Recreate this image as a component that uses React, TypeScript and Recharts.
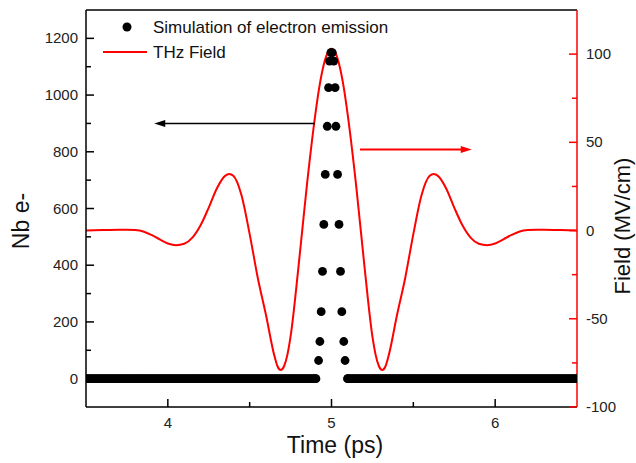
import React from 'react';
import { ComposedChart, Line, Scatter, XAxis, YAxis, ReferenceLine, Legend } from 'recharts';

// THz field (MV/cm) vs time (ps)
const fieldTimes = [
  3.5, 3.6, 3.7, 3.75, 3.8, 3.85, 3.9, 3.95, 4.0, 4.05, 4.1, 4.15, 4.2, 4.25, 4.3, 4.35, 4.375, 4.4,
  4.45, 4.5, 4.55, 4.6, 4.65, 4.67, 4.69, 4.71, 4.73, 4.75, 4.8, 4.85, 4.9, 4.925, 4.95, 4.975, 5.0,
  5.025, 5.05, 5.075, 5.1, 5.15, 5.2, 5.25, 5.27, 5.29, 5.31, 5.33, 5.35, 5.4, 5.45, 5.5, 5.55, 5.6, 5.625,
  5.65, 5.7, 5.75, 5.8, 5.85, 5.9, 5.95, 6.0, 6.05, 6.1, 6.15, 6.2, 6.25, 6.3, 6.4, 6.5,
];
const fieldValues = [
  0, 0.3, 0.5, 0.5, 0.3, -0.5, -2.5, -5, -7.3, -8.3, -7.5, -4, 3, 13, 24, 31, 32, 31,
  20, -2, -27, -48, -70.6, -76.9, -79, -76.9, -70.6, -60, -19, 26, 65, 81, 93, 100.5, 103,
  100.5, 93, 81, 65, 26, -19, -60, -70.6, -76.9, -79, -76.9, -70.6, -48, -27, -2, 20, 31, 32,
  31, 24, 13, 3, -4, -7.5, -8.3, -7.3, -5, -2.5, -0.5, 0.3, 0.5, 0.5, 0.3, 0,
];

// Simulated electron emission (Nb e-)
const peakTimes = [
  4.921, 4.929, 4.937, 4.945, 4.953, 4.962, 4.974, 4.982, 4.988, 4.996,
  5.005, 5.014, 5.022, 5.027, 5.037, 5.046, 5.055, 5.063, 5.075, 5.083,
];
const peakCounts = [
  64, 131, 236, 378, 544, 720, 890, 1026, 1120, 1150,
  1150, 1120, 1026, 890, 720, 544, 378, 236, 131, 64,
];
// emission is zero at these sample times
const baselineLeftTimes = [
  3.5, 3.51, 3.52, 3.53, 3.54, 3.55, 3.56, 3.57, 3.58, 3.59, 3.6, 3.61, 3.62, 3.63, 3.64, 3.65, 3.66, 3.67, 3.68, 3.69,
  3.7, 3.71, 3.72, 3.73, 3.74, 3.75, 3.76, 3.77, 3.78, 3.79, 3.8, 3.81, 3.82, 3.83, 3.84, 3.85, 3.86, 3.87, 3.88, 3.89,
  3.9, 3.91, 3.92, 3.93, 3.94, 3.95, 3.96, 3.97, 3.98, 3.99, 4.0, 4.01, 4.02, 4.03, 4.04, 4.05, 4.06, 4.07, 4.08, 4.09,
  4.1, 4.11, 4.12, 4.13, 4.14, 4.15, 4.16, 4.17, 4.18, 4.19, 4.2, 4.21, 4.22, 4.23, 4.24, 4.25, 4.26, 4.27, 4.28, 4.29,
  4.3, 4.31, 4.32, 4.33, 4.34, 4.35, 4.36, 4.37, 4.38, 4.39, 4.4, 4.41, 4.42, 4.43, 4.44, 4.45, 4.46, 4.47, 4.48, 4.49,
  4.5, 4.51, 4.52, 4.53, 4.54, 4.55, 4.56, 4.57, 4.58, 4.59, 4.6, 4.61, 4.62, 4.63, 4.64, 4.65, 4.66, 4.67, 4.68, 4.69,
  4.7, 4.71, 4.72, 4.73, 4.74, 4.75, 4.76, 4.77, 4.78, 4.79, 4.8, 4.81, 4.82, 4.83, 4.84, 4.85, 4.86, 4.87, 4.88, 4.89,
  4.9, 4.905,
];
const baselineRightTimes = [
  5.098, 5.1, 5.11, 5.12, 5.13, 5.14, 5.15, 5.16, 5.17, 5.18, 5.19,
  5.2, 5.21, 5.22, 5.23, 5.24, 5.25, 5.26, 5.27, 5.28, 5.29, 5.3, 5.31, 5.32, 5.33, 5.34, 5.35, 5.36, 5.37, 5.38, 5.39,
  5.4, 5.41, 5.42, 5.43, 5.44, 5.45, 5.46, 5.47, 5.48, 5.49, 5.5, 5.51, 5.52, 5.53, 5.54, 5.55, 5.56, 5.57, 5.58, 5.59,
  5.6, 5.61, 5.62, 5.63, 5.64, 5.65, 5.66, 5.67, 5.68, 5.69, 5.7, 5.71, 5.72, 5.73, 5.74, 5.75, 5.76, 5.77, 5.78, 5.79,
  5.8, 5.81, 5.82, 5.83, 5.84, 5.85, 5.86, 5.87, 5.88, 5.89, 5.9, 5.91, 5.92, 5.93, 5.94, 5.95, 5.96, 5.97, 5.98, 5.99,
  6.0, 6.01, 6.02, 6.03, 6.04, 6.05, 6.06, 6.07, 6.08, 6.09, 6.1, 6.11, 6.12, 6.13, 6.14, 6.15, 6.16, 6.17, 6.18, 6.19,
  6.2, 6.21, 6.22, 6.23, 6.24, 6.25, 6.26, 6.27, 6.28, 6.29, 6.3, 6.31, 6.32, 6.33, 6.34, 6.35, 6.36, 6.37, 6.38, 6.39,
  6.4, 6.41, 6.42, 6.43, 6.44, 6.45, 6.46, 6.47, 6.48, 6.49, 6.5,
];

const xTicks = [4, 4.5, 5, 5.5, 6];
const xMajorTicks = [4, 5, 6];
const leftTicks = [0, 100, 200, 300, 400, 500, 600, 700, 800, 900, 1000, 1100, 1200];
const leftMajorTicks = [0, 200, 400, 600, 800, 1000, 1200];
const rightTicks = [-100, -75, -50, -25, 0, 25, 50, 75, 100];
const rightMajorTicks = [-100, -50, 0, 50, 100];

const seriesNames = ['Simulation of electron emission', 'THz Field'];

const fieldData = fieldTimes.map((t, i) => ({ t, f: fieldValues[i] }));
const emissionData = [
  ...baselineLeftTimes.map((t) => ({ t, n: 0 })),
  ...peakTimes.map((t, i) => ({ t, n: peakCounts[i] })),
  ...baselineRightTimes.map((t) => ({ t, n: 0 })),
].sort((a, b) => a.t - b.t);

const FONT = '"Liberation Sans", Arial, sans-serif';
const RED = '#ff0000';

const LeftTick = (props: any) => {
  const { x, y, payload } = props;
  const major = leftMajorTicks.includes(payload.value);
  return (
    <g>
      <line x1={x} y1={y} x2={x + (major ? 8 : 5)} y2={y} stroke="#000" strokeWidth={1.5} />
      {major && (
        <text x={x - 8} y={y + 5} textAnchor="end" fontSize={15} fontFamily={FONT} fill="#222">
          {payload.value}
        </text>
      )}
    </g>
  );
};

const RightTick = (props: any) => {
  const { x, y, payload } = props;
  const major = rightMajorTicks.includes(payload.value);
  return (
    <g>
      <line x1={x} y1={y} x2={x - (major ? 8 : 5)} y2={y} stroke={RED} strokeWidth={1.5} />
      {major && (
        <text x={x + 9} y={y + 5} textAnchor="start" fontSize={15} fontFamily={FONT} fill="#222">
          {payload.value}
        </text>
      )}
    </g>
  );
};

const BottomTick = (props: any) => {
  const { x, y, payload } = props;
  const major = xMajorTicks.includes(payload.value);
  return (
    <g>
      <line x1={x} y1={y} x2={x} y2={y - (major ? 8 : 5)} stroke="#000" strokeWidth={1.5} />
      {major && (
        <text x={x} y={y + 21} textAnchor="middle" fontSize={15} fontFamily={FONT} fill="#222">
          {payload.value}
        </text>
      )}
    </g>
  );
};

const makeArrow = (color: string, width: number) => (props: any) => {
  const { x1, y1, x2, y2 } = props;
  const dx = x2 - x1;
  const dy = y2 - y1;
  const len = Math.hypot(dx, dy) || 1;
  const ux = dx / len;
  const uy = dy / len;
  const headLen = 11;
  const headHalf = 3.5;
  const bx = x2 - ux * headLen;
  const by = y2 - uy * headLen;
  return (
    <g>
      <line x1={x1} y1={y1} x2={bx + ux * 2} y2={by + uy * 2} stroke={color} strokeWidth={width} />
      <polygon
        points={`${x2},${y2} ${bx - uy * headHalf},${by + ux * headHalf} ${bx + uy * headHalf},${by - ux * headHalf}`}
        fill={color}
      />
    </g>
  );
};

const Dot = (props: any) => <circle cx={props.cx} cy={props.cy} r={4.4} fill="#000" />;

const LegendContent = () => (
  <svg width={400} height={70} style={{ display: 'block' }}>
    <circle cx={127} cy={27} r={4.5} fill="#000" />
    <text x={153} y={33} fontSize={17} fontFamily={FONT} fill="#111">{seriesNames[0]}</text>
    <line x1={103} y1={52} x2={147} y2={52} stroke={RED} strokeWidth={2} />
    <text x={153} y={58} fontSize={17} fontFamily={FONT} fill="#111">{seriesNames[1]}</text>
  </svg>
);

export default function App() {
  return (
    <div style={{ position: 'absolute', left: 0, top: 0, width: 636, height: 463, background: '#fff' }}>
      <ComposedChart width={636} height={463} margin={{ top: 10, right: 0, bottom: 0, left: 0 }}>
        <XAxis
          dataKey="t"
          type="number"
          domain={[3.5, 6.5]}
          ticks={xTicks}
          allowDataOverflow
          height={56}
          tickSize={0}
          tickMargin={0}
          tickLine={false}
          tick={<BottomTick />}
          axisLine={{ stroke: '#000', strokeWidth: 1.5 }}
          label={{
            content: () => (
              <text x={335} y={453} textAnchor="middle" fontSize={23} fontFamily={FONT} fill="#111">
                Time (ps)
              </text>
            ),
          }}
        />
        <YAxis
          yAxisId="left"
          dataKey="n"
          type="number"
          domain={[-100, 1300]}
          ticks={leftTicks}
          width={86}
          tickSize={0}
          tickMargin={0}
          tickLine={false}
          tick={<LeftTick />}
          interval={0}
          axisLine={{ stroke: '#000', strokeWidth: 1.5 }}
          label={{
            content: () => (
              <text
                x={29}
                y={221}
                transform="rotate(-90 29 221)"
                textAnchor="middle"
                fontSize={23}
                fontFamily={FONT}
                fill="#111"
              >
                Nb e-
              </text>
            ),
          }}
        />
        <YAxis
          yAxisId="right"
          orientation="right"
          dataKey="f"
          type="number"
          domain={[-100, 125]}
          ticks={rightTicks}
          width={59}
          tickSize={0}
          tickMargin={0}
          tickLine={false}
          tick={<RightTick />}
          interval={0}
          axisLine={{ stroke: RED, strokeWidth: 1.5 }}
          label={{
            content: () => (
              <text
                x={630}
                y={226}
                transform="rotate(-90 630 226)"
                textAnchor="middle"
                fontSize={22}
                fontFamily={FONT}
                fill="#111"
              >
                Field (MV/cm)
              </text>
            ),
          }}
        />
        <ReferenceLine yAxisId="left" y={1300} stroke="#000" strokeWidth={1.5} />
        <Legend
          layout="vertical"
          align="center"
          verticalAlign="middle"
          wrapperStyle={{ top: 0, left: 0, width: 400, height: 70 }}
          content={<LegendContent />}
        />
        <Scatter
          yAxisId="left"
          name={seriesNames[0]}
          data={emissionData}
          dataKey="n"
          shape={<Dot />}
          isAnimationActive={false}
        />
        <Line
          yAxisId="right"
          name={seriesNames[1]}
          data={fieldData}
          dataKey="f"
          type="monotone"
          stroke={RED}
          strokeWidth={2}
          dot={false}
          activeDot={false}
          isAnimationActive={false}
        />
        <ReferenceLine
          yAxisId="left"
          segment={[{ x: 4.898, y: 900 }, { x: 3.917, y: 900 }]}
          shape={makeArrow('#000', 1.5)}
        />
        <ReferenceLine
          yAxisId="right"
          segment={[{ x: 5.174, y: 46 }, { x: 5.857, y: 46 }]}
          shape={makeArrow(RED, 2)}
        />
      </ComposedChart>
    </div>
  );
}
